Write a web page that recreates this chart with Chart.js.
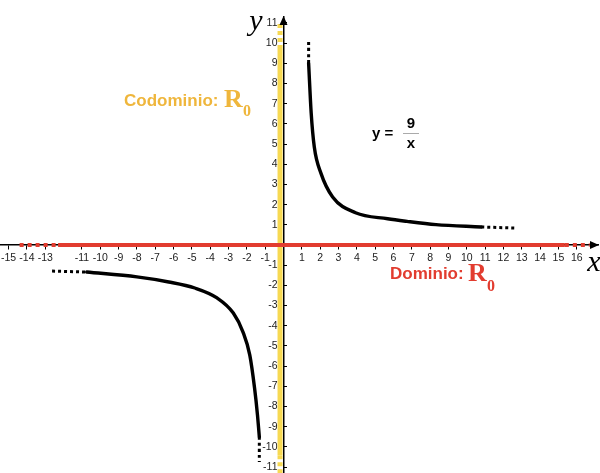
<!DOCTYPE html>
<html>
<head>
<meta charset="utf-8">
<script src="https://cdn.jsdelivr.net/npm/chart.js@4"></script>
<style>
  html, body { margin: 0; padding: 0; background: #fff; }
  #wrap { width: 600px; height: 473px; }
</style>
</head>
<body>
<div id="wrap"><canvas id="chart" width="600" height="473"></canvas></div>
<script>
// tick labels (the reference skips -12 on the x axis)
const xTicks = [-15, -14, -13, -11, -10, -9, -8, -7, -6, -5, -4, -3, -2, -1,
  1, 2, 3, 4, 5, 6, 7, 8, 9, 10, 11, 12, 13, 14, 15, 16];
const yTicks = [-11, -10, -9, -8, -7, -6, -5, -4, -3, -2, -1,
  1, 2, 3, 4, 5, 6, 7, 8, 9, 10, 11];

// y = 9/x
const rightCurve = [[1.37, 9.0], [1.51, 6.53], [1.68, 4.85], [2.04, 3.56], [2.68, 2.38],
  [3.93, 1.6], [5.68, 1.3], [6.74, 1.17], [8.32, 1.01], [10.79, 0.89]];
const rightTopDots = [[1.37, 10.05], [1.37, 9.0]];
const rightTailDots = [[10.79, 0.89], [12.7, 0.84]];

const leftCurve = [[-10.74, -1.34], [-8.0, -1.58], [-6.26, -1.83], [-4.84, -2.13], [-3.63, -2.62],
  [-2.74, -3.37], [-2.21, -4.31], [-1.84, -5.45], [-1.58, -7.08], [-1.42, -8.42], [-1.32, -9.5]];
const leftTailDots = [[-12.63, -1.29], [-10.74, -1.34]];
const leftBottomDots = [[-1.32, -9.5], [-1.32, -10.74]];

// domain (x axis, red) and codomain (y axis, yellow) bands
const domainSolid = [-12.3, 15.35];
const domainDots = [[-14.4, -12.3], [15.35, 16.7]];
const codomainSolid = [-10.4, 9.7];
const codomainDots = [[9.7, 11.0], [-11.3, -10.4]];

const RED = '#e23c2f';
const GOLD = '#efb63c';
const YELLOW = '#f7d952';

const pts = arr => arr.map(p => ({ x: p[0], y: p[1] }));

function curve(data, dotted) {
  return {
    data: pts(data),
    showLine: true,
    borderColor: '#000',
    borderWidth: dotted ? 3 : 3.4,
    borderDash: dotted ? [3, 3] : [],
    borderCapStyle: dotted ? 'butt' : 'round',
    cubicInterpolationMode: 'monotone',
    pointRadius: 0
  };
}

function hBand(from, to, dotted) {
  return {
    data: [{ x: from, y: 0 }, { x: to, y: 0 }],
    showLine: true,
    borderColor: RED,
    borderWidth: 4,
    borderDash: dotted ? [4, 4] : [],
    pointRadius: 0
  };
}

function vBand(from, to, dotted) {
  // drawn just left of the y axis, as in the picture
  return {
    data: [{ x: -0.19, y: from }, { x: -0.19, y: to }],
    showLine: true,
    borderColor: YELLOW,
    borderWidth: 5,
    borderDash: dotted ? [4, 3] : [],
    pointRadius: 0
  };
}

const datasets = [
  curve(rightCurve, false),
  curve(rightTopDots, true),
  curve(rightTailDots, true),
  curve(leftCurve, false),
  curve(leftTailDots, true),
  curve(leftBottomDots, true),
  hBand(domainSolid[0], domainSolid[1], false),
  ...domainDots.map(d => hBand(d[0], d[1], true)),
  vBand(codomainSolid[0], codomainSolid[1], false),
  ...codomainDots.map(d => vBand(d[0], d[1], true))
];

// arrows, axis names and the annotations
const decorations = {
  id: 'decorations',
  afterDraw(chart) {
    const { ctx, scales: { x, y } } = chart;
    const x0 = x.getPixelForValue(0);
    const y0 = y.getPixelForValue(0);
    ctx.save();
    ctx.fillStyle = '#000';
    ctx.beginPath();
    ctx.moveTo(x.right + 1, y0);
    ctx.lineTo(x.right - 8, y0 - 4);
    ctx.lineTo(x.right - 8, y0 + 4);
    ctx.closePath();
    ctx.fill();
    ctx.beginPath();
    ctx.moveTo(x0, y.top - 1);
    ctx.lineTo(x0 - 4, y.top + 8);
    ctx.lineTo(x0 + 4, y.top + 8);
    ctx.closePath();
    ctx.fill();

    ctx.textBaseline = 'alphabetic';
    ctx.textAlign = 'center';
    ctx.font = 'italic 30px "Liberation Serif"';
    ctx.fillText('y', 256, 30);
    ctx.fillText('x', 594, 271);

    // codomain label
    ctx.textAlign = 'left';
    ctx.fillStyle = GOLD;
    ctx.font = 'bold 17px "Liberation Sans"';
    ctx.fillText('Codominio:', 124, 106);
    ctx.font = 'bold 26px "Liberation Serif"';
    ctx.fillText('R', 224, 107);
    ctx.font = 'bold 16px "Liberation Serif"';
    ctx.fillText('0', 243, 116);

    // domain label
    ctx.fillStyle = RED;
    ctx.font = 'bold 17px "Liberation Sans"';
    ctx.fillText('Dominio:', 390, 279);
    ctx.font = 'bold 26px "Liberation Serif"';
    ctx.fillText('R', 468, 281);
    ctx.font = 'bold 16px "Liberation Serif"';
    ctx.fillText('0', 487, 291);

    // y = 9/x
    ctx.fillStyle = '#000';
    ctx.font = 'bold 15px "Liberation Sans"';
    ctx.fillText('y =', 372, 138);
    ctx.textAlign = 'center';
    ctx.fillText('9', 411, 128);
    ctx.fillText('x', 411, 148);
    ctx.strokeStyle = '#aaa';
    ctx.lineWidth = 1;
    ctx.beginPath();
    ctx.moveTo(403, 133.5);
    ctx.lineTo(419, 133.5);
    ctx.stroke();
    ctx.restore();
  }
};

const tickFont = { family: '"Liberation Sans", Arial, sans-serif', size: 10.5 };
const yMin = -11.29;
const yMax = 11.29;

new Chart(document.getElementById('chart'), {
  type: 'scatter',
  data: { datasets },
  plugins: [decorations],
  options: {
    responsive: false,
    animation: false,
    layout: { autoPadding: false, padding: { left: 0, right: 2, top: 17, bottom: 0 } },
    plugins: { legend: { display: false }, tooltip: { enabled: false } },
    scales: {
      x: {
        type: 'linear',
        position: { y: 0 },
        min: -15.47,
        max: 17.16,
        afterBuildTicks: s => { s.ticks = xTicks.map(v => ({ value: v })); },
        afterFit: s => { s.height = 0; s.paddingLeft = 0; s.paddingRight = 0; },
        border: { display: true, color: '#000', width: 1.5 },
        grid: { drawOnChartArea: false, drawTicks: true, tickLength: 4, color: '#000' },
        ticks: { autoSkip: false, maxRotation: 0, padding: 3, color: '#222', font: tickFont }
      },
      y: {
        type: 'linear',
        position: { x: 0 },
        min: yMin,
        max: yMax,
        afterBuildTicks: s => { s.ticks = yTicks.map(v => ({ value: v })); },
        afterFit: s => { s.width = 0; s.paddingTop = 0; s.paddingBottom = 0; },
        border: { display: true, color: '#000', width: 1.5 },
        grid: { drawOnChartArea: false, drawTicks: true, tickLength: -4, color: '#000' },
        ticks: { display: false }
      },
      // labels of the y axis, set a little left of the axis line
      yLabels: {
        type: 'linear',
        axis: 'y',
        position: { x: -0.33 },
        min: yMin,
        max: yMax,
        afterBuildTicks: s => { s.ticks = yTicks.map(v => ({ value: v })); },
        afterFit: s => { s.width = 0; s.paddingTop = 0; s.paddingBottom = 0; },
        border: { display: false },
        grid: { display: false },
        ticks: { autoSkip: false, color: '#222', font: tickFont }
      }
    }
  }
});
</script>
</body>
</html>
